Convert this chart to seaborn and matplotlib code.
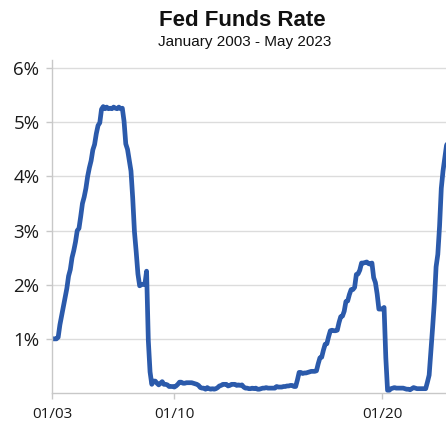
import numpy as np
import pandas as pd
import matplotlib
matplotlib.use("Agg")
import matplotlib.pyplot as plt
import seaborn as sns

# Monthly effective fed funds rate (%)
years = list(range(2004, 2024))
rates = {
    2004: [1.00, 1.01, 1.00, 1.00, 1.00, 1.03, 1.26, 1.43, 1.61, 1.76, 1.93, 2.16],
    2005: [2.28, 2.50, 2.63, 2.79, 3.00, 3.04, 3.26, 3.50, 3.62, 3.78, 4.00, 4.16],
    2006: [4.29, 4.49, 4.59, 4.79, 4.94, 4.99, 5.24, 5.29, 5.25, 5.28, 5.25, 5.26],
    2007: [5.25, 5.28, 5.26, 5.25, 5.28, 5.25, 5.26, 5.02, 4.60, 4.50, 4.30, 4.10],
    2008: [3.60, 2.98, 2.61, 2.20, 1.98, 2.00, 2.01, 2.00, 2.25, 0.97, 0.39, 0.16],
    2009: [0.22, 0.22, 0.18, 0.15, 0.18, 0.21, 0.16, 0.16, 0.15, 0.12, 0.12, 0.12],
    2010: [0.11, 0.13, 0.16, 0.20, 0.20, 0.18, 0.18, 0.19, 0.19, 0.19, 0.19, 0.18],
    2011: [0.17, 0.16, 0.14, 0.10, 0.09, 0.09, 0.07, 0.10, 0.08, 0.07, 0.08, 0.07],
    2012: [0.08, 0.10, 0.13, 0.14, 0.16, 0.16, 0.16, 0.13, 0.14, 0.16, 0.16, 0.16],
    2013: [0.14, 0.15, 0.14, 0.15, 0.11, 0.09, 0.09, 0.08, 0.08, 0.09, 0.08, 0.09],
    2014: [0.07, 0.07, 0.08, 0.09, 0.09, 0.10, 0.09, 0.09, 0.09, 0.09, 0.09, 0.12],
    2015: [0.11, 0.11, 0.11, 0.12, 0.12, 0.13, 0.13, 0.14, 0.14, 0.12, 0.12, 0.24],
    2016: [0.38, 0.38, 0.36, 0.37, 0.37, 0.38, 0.39, 0.40, 0.40, 0.40, 0.41, 0.54],
    2017: [0.65, 0.66, 0.79, 0.90, 0.91, 1.04, 1.15, 1.16, 1.15, 1.15, 1.16, 1.30],
    2018: [1.41, 1.42, 1.51, 1.69, 1.70, 1.82, 1.91, 1.91, 1.95, 2.19, 2.20, 2.27],
    2019: [2.40, 2.40, 2.41, 2.42, 2.39, 2.38, 2.40, 2.13, 2.04, 1.83, 1.55, 1.55],
    2020: [1.55, 1.58, 0.65, 0.05, 0.05, 0.08, 0.09, 0.10, 0.09, 0.09, 0.09, 0.09],
    2021: [0.09, 0.08, 0.07, 0.07, 0.06, 0.08, 0.10, 0.09, 0.08, 0.08, 0.08, 0.08],
    2022: [0.08, 0.08, 0.20, 0.33, 0.77, 1.21, 1.68, 2.33, 2.56, 3.08, 3.78, 4.10],
    2023: [4.33, 4.57, 4.65, 4.83, 5.06],
}

tick_labels = ["01/03", "01/10", "01/20"]
y_ticks = [1, 2, 3, 4, 5, 6]
y_labels = ["1%", "2%", "3%", "4%", "5%", "6%"]

rows = []
for yr in years:
    for m, v in enumerate(rates[yr]):
        rows.append({"t": yr + m / 12.0, "rate": v})
df = pd.DataFrame(rows)

sns.set_theme(style="white")
plt.rcParams["font.family"] = ["Open Sans", "DejaVu Sans"]

W, H = 446, 424
fig = plt.figure(figsize=(W / 100, H / 100), dpi=100)
ax = fig.add_axes([52 / W, 31 / H, (W - 52) / W, (393 - 60) / H])

sns.lineplot(data=df, x="t", y="rate", ax=ax, color="#2b5aab", linewidth=3.4,
             solid_joinstyle="round", solid_capstyle="round")

ax.set_xlim(2004.12, 2023.06)
ax.set_ylim(0, 6.15)
ax.set_xticks([2004.12, 2010.0, 2020.0])
ax.set_xticklabels(tick_labels)
ax.set_yticks(y_ticks)
ax.set_yticklabels(y_labels)
ax.set_xlabel("")
ax.set_ylabel("")

ax.grid(axis="y", color="#dcdcdc", linewidth=1.0)
ax.set_axisbelow(True)
for s in ["top", "right"]:
    ax.spines[s].set_visible(False)
for s in ["left", "bottom"]:
    ax.spines[s].set_color("#c8c8c8")
    ax.spines[s].set_linewidth(1.0)

ax.tick_params(axis="y", labelsize=13.5, colors="#c8c8c8", labelcolor="#1a1a1a",
               length=4, width=1, direction="out", left=True, pad=5)
ax.tick_params(axis="x", labelsize=11, colors="#c8c8c8", labelcolor="#1a1a1a",
               length=4, width=1, direction="out", bottom=True, pad=6)

fig.text(242 / W, 1 - 21 / H, "Fed Funds Rate", ha="center", va="center",
         fontsize=16, fontweight="bold", family=["Liberation Sans", "DejaVu Sans"],
         color="#111111")
fig.text(245 / W, 1 - 42 / H, "January 2003 - May 2023", ha="center", va="center",
         fontsize=11, family=["Liberation Sans", "DejaVu Sans"], color="#111111")

fig.savefig("out.png", dpi=100)
